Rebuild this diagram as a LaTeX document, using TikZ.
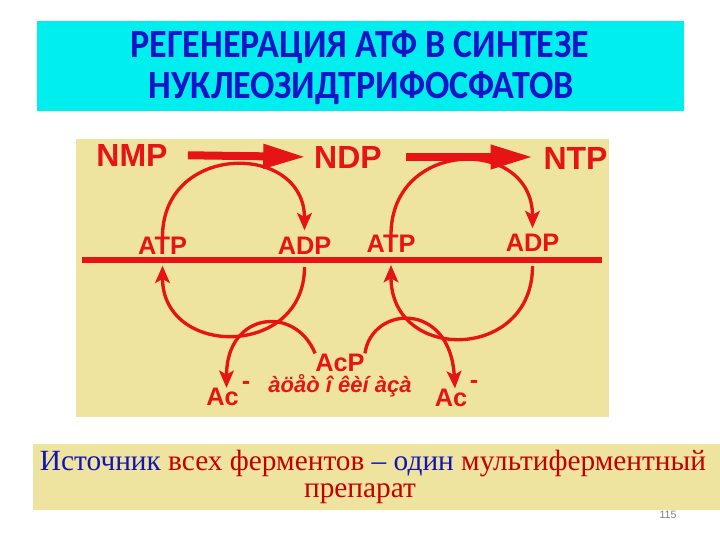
\documentclass[tikz,border=0pt]{standalone}
\usepackage{fontspec}
\setmainfont{Liberation Serif}
\setsansfont{Liberation Sans}
\newfontfamily\titlefont{Carlito}
\usetikzlibrary{arrows.meta}
\definecolor{hdrcyan}{RGB}{0,238,238}
\definecolor{panelkhaki}{RGB}{238,228,160}
\definecolor{chemred}{RGB}{230,20,20}
\definecolor{hdrblue}{RGB}{20,20,200}
\definecolor{srcred}{RGB}{195,0,0}
\definecolor{srcblue}{RGB}{20,20,180}
\begin{document}
\begin{tikzpicture}[
                x=0.75pt, y=-0.75pt,
                hdr/.style={font=\titlefont\bfseries\fontsize{30}{30}\selectfont, text=hdrblue, inner sep=0pt},
                big/.style={font=\sffamily\bfseries\fontsize{24}{24}\selectfont, text=chemred, inner sep=0pt},
                small/.style={font=\sffamily\bfseries\fontsize{19}{19}\selectfont, text=chemred, inner sep=0pt},
                enzlbl/.style={font=\sffamily\bfseries\itshape\fontsize{16.5}{16.5}\selectfont, text=chemred, inner sep=0pt},
                src/.style={font=\fontsize{22}{22}\selectfont, inner sep=0pt},
                bigarr/.style={draw=chemred, line width=6pt, -{Triangle[length=32pt,width=17pt]}},
                cyc/.style={draw=chemred, line width=2.5pt, -{Stealth[length=13pt,width=11pt,inset=3pt]}},
                membrane/.style={draw=chemred, line width=3.8pt}
            ]
                \fill[white] (0,0) rectangle (720,540);
                \useasboundingbox (0,0) rectangle (720,540);
                \fill[hdrcyan] (37,21) rectangle (684,111);
                \fill[panelkhaki] (76,139) rectangle (609,417);
                \fill[panelkhaki] (33,444) rectangle (720,510);

                \node[hdr] (ttl1) at (360,47) {\scalebox{0.9}[1]{РЕГЕНЕРАЦИЯ АТФ В СИНТЕЗЕ}};
                \node[hdr] (ttl2) at (361,88) {\scalebox{0.9}[1]{НУКЛЕОЗИДТРИФОСФАТОВ}};

                \node[big] (nmp) at (132,155) {NMP};
                \node[big] (ndp) at (348,157) {NDP};
                \node[big] (ntp) at (575.5,158.5) {NTP};
                \node[small] (atp1) at (162.5,246) {ATP};
                \node[small] (adp1) at (304.5,246) {ADP};
                \node[small] (atp2) at (391,244) {ATP};
                \node[small] (adp2) at (532.5,242.5) {ADP};
                \node[small] (acp) at (340,362.5) {AcP};
                \node[small] (ac1) at (222.5,397) {Ac};
                \node[small] (ac2) at (451,397.5) {Ac};
                \node[small] (ac1m) at (246,385) {-};
                \node[small] (ac2m) at (474,384) {-};
                \node[enzlbl] (enz) at (340,386) {àöåò î êèí àçà};

                \draw[membrane] (82,260) -- (602,260);

                \draw[bigarr, shorten <=15pt, shorten >=6pt] (nmp.east) -- (ndp.west);
                \draw[bigarr, shorten <=18pt, shorten >=7.5pt] (ndp.east) -- (ndp.east -| ntp.west);

                % upper half: phosphate to the nucleotide
                \draw[cyc, shorten >=5pt] (atp1.north) .. controls +(0,-95) and +(0,-95) .. (adp1.north);
                \draw[cyc, shorten >=4pt] (atp2.north) .. controls +(0,-97) and +(0,-97) .. (adp2.north);
                % lower half: ATP regenerated
                \draw[cyc, shorten <=9pt, shorten >=8pt] (adp1.south) .. controls +(0,103) and +(0,103) .. (atp1.south);
                \draw[cyc, shorten <=11pt, shorten >=9pt] (adp2.south) .. controls +(0,110) and +(0,110) .. (atp2.south);
                % acetyl phosphate
                \draw[cyc] (acp.north west) .. controls +(-20,-49) and +(0,-76) .. ([xshift=3pt]ac1.north);
                \draw[cyc] (acp.north east) .. controls +(7,-48) and +(-5,-88) .. ([xshift=3pt]ac2.north);

                \node[src] (src1) at (373,463) {\textcolor{srcblue}{Источник} \textcolor{srcred}{всех ферментов} \textcolor{srcblue}{– один} \textcolor{srcred}{мультиферментный}};
                \node[src, text=srcred] (src2) at (360,494) {препарат};
                \node[font=\sffamily\fontsize{8}{8}\selectfont, text=gray, inner sep=0pt] (pgnum) at (668,515) {115};
            \end{tikzpicture}
\end{document}
